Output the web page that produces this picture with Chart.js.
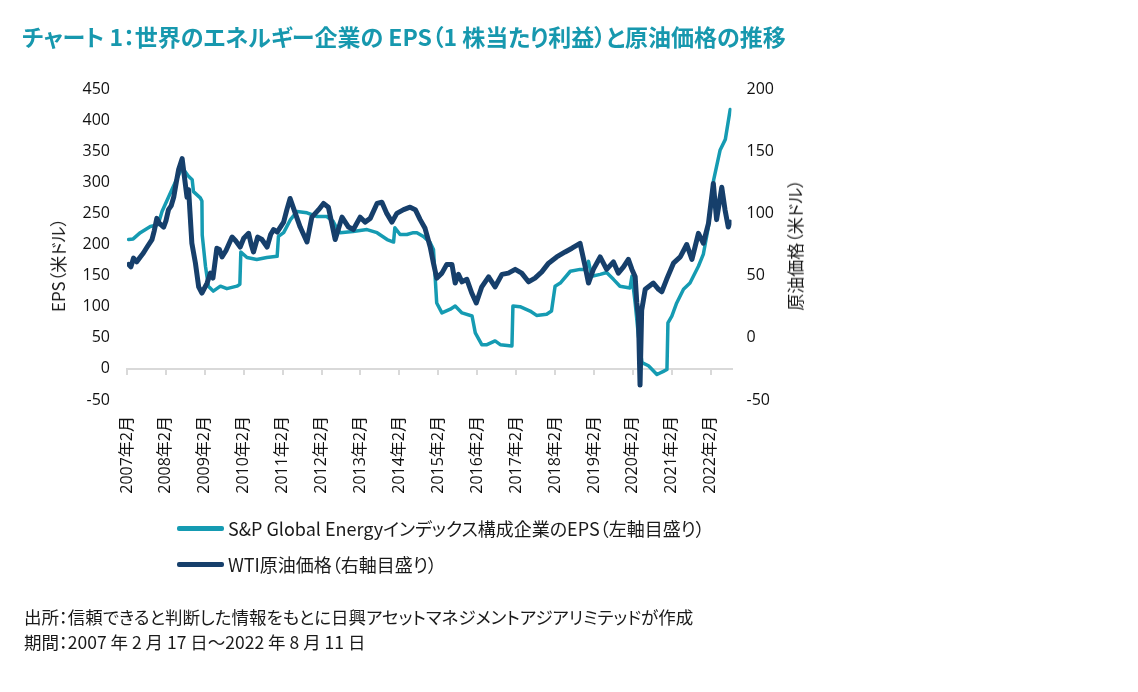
<!DOCTYPE html>
<html lang="ja">
<head>
<meta charset="utf-8">
<script src="https://cdn.jsdelivr.net/npm/chart.js@4.4.0/dist/chart.umd.min.js"></script>
<style>
html,body{margin:0;padding:0;background:#fff;}
body{width:1138px;height:692px;position:relative;overflow:hidden;font-family:'Noto Sans CJK JP','Noto Sans',sans-serif;color:#1a1a1a;font-feature-settings:"palt";}
#c{position:absolute;left:0;top:0;}
.t{position:absolute;white-space:nowrap;}
#title{left:22px;top:20px;font-size:23px;font-weight:700;color:#1798ae;line-height:32px;}
.ax{font-size:17px;line-height:22px;transform:translate(-50%,-50%) rotate(-90deg);}
#ylt{left:58px;top:265px;}
#yrt{left:795px;top:245px;}
.lg{left:177px;height:26px;display:flex;align-items:center;font-size:18px;}
.lg i{display:inline-block;width:47px;height:5px;margin-right:4px;border-radius:2px;}
#lg1{top:515px;}
#lg2{top:551px;}
.ft{left:24px;font-size:17.5px;line-height:24px;}
#ft1{top:605px;}
#ft2{top:630px;}
</style>
</head>
<body>
<canvas id="c" width="1138" height="692"></canvas>
<div id="title" class="t">チャート 1：世界のエネルギー企業の EPS（1 株当たり利益）と原油価格の推移</div>
<div id="ylt" class="t ax">EPS（米ドル）</div>
<div id="yrt" class="t ax">原油価格（米ドル）</div>
<div id="lg1" class="t lg"><i id="sw1"></i><span id="lt1"></span></div>
<div id="lg2" class="t lg"><i id="sw2"></i><span id="lt2"></span></div>
<div id="ft1" class="t ft">出所：信頼できると判断した情報をもとに日興アセットマネジメントアジアリミテッドが作成</div>
<div id="ft2" class="t ft">期間：2007 年 2 月 17 日～2022 年 8 月 11 日</div>
<script>
// ---- data (x = months since Feb 2007) ----
const xTickMonths = [0,12,24,36,48,60,72,84,96,108,120,132,144,156,168,180];
const xTickLabels = ['2007年2月','2008年2月','2009年2月','2010年2月','2011年2月','2012年2月','2013年2月','2014年2月','2015年2月','2016年2月','2017年2月','2018年2月','2019年2月','2020年2月','2021年2月','2022年2月'];

const seriesNames = ['S&P Global Energyインデックス構成企業のEPS（左軸目盛り）','WTI原油価格（右軸目盛り）'];
const seriesColors = ['#159bb2','#163f6b'];

const epsMonths = [0.5,1.9,4.1,7.2,9.6,10.8,14.0,16.5,17.5,18.9,20.1,20.5,22.6,23.1,23.2,24.2,25.1,26.6,28.8,30.8,33.9,34.8,35.1,37.0,40.0,43.1,46.3,46.7,48.3,50.4,52.4,55.5,58.6,61.6,63.6,64.8,65.7,69.7,74.0,77.1,80.2,82.2,82.6,84.2,86.3,88.3,89.4,91.4,93.5,94.5,95.0,95.5,97.1,99.7,101.2,103.3,106.4,107.4,109.4,111.0,113.5,115.1,118.7,119.0,121.2,124.3,126.3,129.4,130.9,132.0,133.6,136.7,139.7,141.3,142.3,143.3,145.9,147.9,150.0,152.0,155.1,155.7,156.7,157.7,158.8,160.8,163.4,165.4,166.5,166.8,168.0,169.5,171.6,173.6,176.2,177.7,179.3,180.9,182.9,184.5,186.0];
const epsValues = [208,209,219,229,232,253,290,318,320,310,304,285,275,270,215,165,133,125,133,129,133,136,188,179,176,179,181,213,219,240,253,251,245,245,237,225,219,221,224,219,208,204,227,216,216,219,219,213,203,192,149,106,90,96,101,90,85,58,39,39,45,39,37,101,100,93,86,88,93,133,138,157,160,160,173,149,152,155,144,133,130,149,106,53,10,5,-9,-4,-1,74,85,106,128,138,165,184,229,304,352,369,417];

const wtiMonths = [0.5,1.2,2.0,3.0,4.1,5.0,6.2,7.7,8.4,9.2,10.0,11.3,12.0,12.8,13.6,14.4,15.2,15.9,17.0,18.5,19.0,20.0,21.1,22.1,23.1,24.7,25.7,26.5,27.7,28.5,29.3,30.5,32.4,33.5,34.9,36.0,37.5,38.3,39.0,40.3,41.6,42.4,43.2,44.3,45.2,46.3,47.3,48.3,49.3,50.3,51.9,53.4,55.5,57.0,59.1,60.6,62.1,64.2,66.3,68.3,69.8,71.9,73.4,75.0,77.1,78.6,80.1,81.7,83.2,85.3,87.3,88.9,90.4,91.9,93.5,94.5,95.5,97.1,98.6,100.2,101.2,102.2,103.3,104.8,106.3,107.7,109.4,111.5,113.5,115.6,117.6,119.7,121.7,123.8,125.8,127.9,130.0,132.5,135.1,137.2,139.7,141.3,142.3,143.8,145.9,147.9,150.0,151.5,153.1,154.6,155.7,156.7,157.2,157.7,158.2,158.7,159.8,162.3,163.9,164.9,166.4,168.5,170.6,172.6,174.2,176.2,177.7,179.3,180.8,181.8,183.4,184.4,185.4,186.0];
const wtiValues = [59,57,64,61,65,68,73,79,86,96,92,89,94,103,106,113,125,135,144,113,119,76,60,41,36,44,52,48,72,71,65,70,81,78,73,80,84,75,69,81,79,76,73,83,87,85,89,93,103,112,100,89,77,97,103,108,105,79,97,89,87,97,93,96,108,109,100,93,100,103,105,103,95,88,73,60,48,52,59,59,44,51,45,47,36,28,41,49,41,51,52,55,52,45,48,53,60,65,69,72,76,57,44,55,65,55,61,52,57,63,55,49,28,17,-38,22,39,44,39,37,47,60,65,75,63,84,76,92,124,95,121,103,89,93];

const epsMin = -50, epsMax = 450, wtiMin = -50, wtiMax = 200, axisStep = 50;
const xMin = 0, xMax = 186.4;

// ---- legend (HTML) ----
document.getElementById('sw1').style.background = seriesColors[0];
document.getElementById('sw2').style.background = seriesColors[1];
document.getElementById('lt1').textContent = seriesNames[0];
document.getElementById('lt2').textContent = seriesNames[1];

const toPts = (xs, ys) => xs.map((x, i) => ({x: x, y: ys[i]}));
const tickFont = {family: "'Open Sans','Noto Sans CJK JP',sans-serif", size: 16};
const setYearTicks = s => { s.ticks = xTickMonths.map(v => ({value: v})); };

new Chart(document.getElementById('c'), {
  type: 'line',
  data: {
    datasets: [
      {label: seriesNames[0], data: toPts(epsMonths, epsValues), borderColor: seriesColors[0], backgroundColor: seriesColors[0],
       borderWidth: 3.5, pointRadius: 0, tension: 0, yAxisID: 'y', xAxisID: 'x', order: 1, borderJoinStyle: 'round', borderCapStyle: 'round'},
      {label: seriesNames[1], data: toPts(wtiMonths, wtiValues), borderColor: seriesColors[1], backgroundColor: seriesColors[1],
       borderWidth: 5, pointRadius: 0, tension: 0, yAxisID: 'y1', xAxisID: 'x', order: 0, borderJoinStyle: 'round', borderCapStyle: 'round'}
    ]
  },
  options: {
    responsive: false,
    devicePixelRatio: 1,
    animation: false,
    events: [],
    layout: {padding: {left: 30, right: 346.5, top: 89, bottom: 192}},
    plugins: {legend: {display: false}, tooltip: {enabled: false}, title: {display: false}},
    scales: {
      x: {
        type: 'linear', position: 'bottom', min: xMin, max: xMax,
        afterBuildTicks: setYearTicks,
        ticks: {autoSkip: false, maxRotation: 90, minRotation: 90, padding: 16, font: tickFont, color: '#111',
                callback: (v, i) => xTickLabels[xTickMonths.indexOf(v)]},
        grid: {display: false, drawTicks: false},
        border: {display: false},
        afterFit: s => { s.height = 100; }
      },
      x0: {
        type: 'linear', axis: 'x', position: {y: 0}, min: xMin, max: xMax,
        afterBuildTicks: setYearTicks,
        ticks: {display: false},
        grid: {drawOnChartArea: false, drawTicks: true, tickLength: 5, color: '#d9d9d9', lineWidth: 2},
        border: {display: true, color: '#d9d9d9', width: 2}
      },
      y: {
        position: 'left', min: epsMin, max: epsMax,
        ticks: {stepSize: axisStep, padding: 17, font: tickFont, color: '#111'},
        grid: {display: false, drawTicks: false},
        border: {display: false},
        afterFit: s => { s.width = 97; }
      },
      y1: {
        position: 'right', min: wtiMin, max: wtiMax,
        ticks: {stepSize: axisStep, padding: 15, font: tickFont, color: '#111'},
        grid: {display: false, drawTicks: false},
        border: {display: false},
        afterFit: s => { s.width = 60; }
      }
    }
  }
});
</script>
</body>
</html>
